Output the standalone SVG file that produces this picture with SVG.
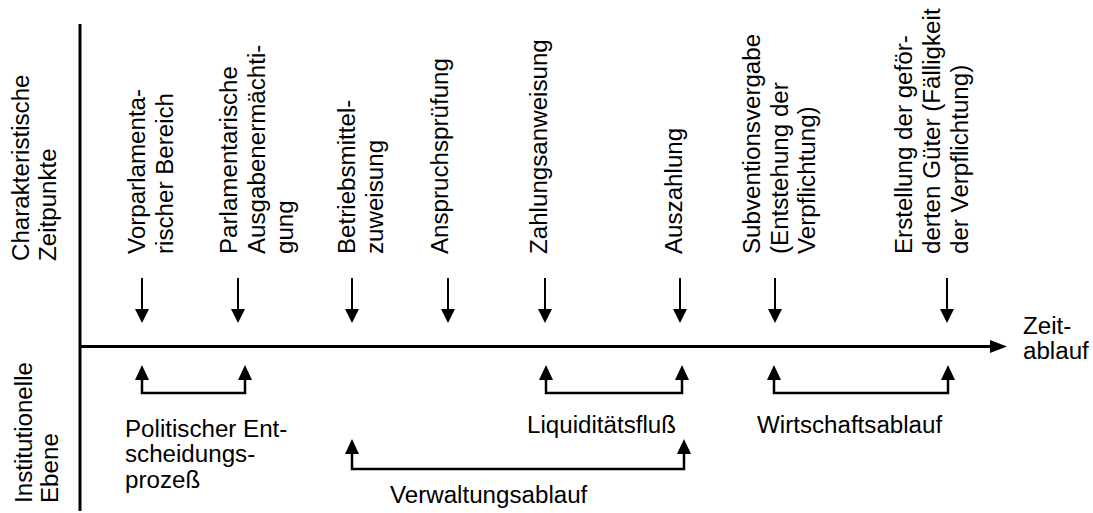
<svg xmlns="http://www.w3.org/2000/svg" width="1093" height="513" viewBox="0 0 1093 513">
<style>
text{font-family:"Liberation Sans",Arial,sans-serif;font-size:23px;fill:#000}
.ax{stroke:#000;stroke-width:3;fill:none}
.sh{stroke:#000;stroke-width:2;fill:none}
.br{stroke:#000;stroke-width:2.5;fill:none}
.hd{fill:#000;stroke:none}
</style>
<defs>
<path id="dn" d="M-7,0 L7,0 L0,14 Z"/>
<path id="up" d="M-7,0 L7,0 L0,-15 Z"/>
</defs>
<g id="axes">
<line class="ax" x1="80" y1="24" x2="80" y2="511"/>
<line class="ax" x1="80" y1="346.5" x2="992" y2="346.5"/>
<path class="hd" d="M990,340 L1007,346.5 L990,353 Z"/>
</g>
<g id="axis-labels">
<g transform="translate(29,261) rotate(-90) scale(1.05,1)"><text x="0" y="0">Charakteristische</text></g>
<g transform="translate(56,261) rotate(-90) scale(1.05,1)"><text x="0" y="0">Zeitpunkte</text></g>
<g transform="translate(32,503) rotate(-90) scale(1.05,1)"><text x="0" y="0">Institutionelle</text></g>
<g transform="translate(58,503) rotate(-90) scale(1.05,1)"><text x="0" y="0">Ebene</text></g>
<g transform="translate(1023,334) scale(1.05,1)"><text x="0" y="0">Zeit-</text></g>
<g transform="translate(1023,359) scale(1.05,1)"><text x="0" y="0">ablauf</text></g>
</g>
<g id="p1">
<g transform="translate(145,254) rotate(-90) scale(1.05,1)"><text x="0" y="0">Vorparlamenta-</text></g>
<g transform="translate(173,254) rotate(-90) scale(1.05,1)"><text x="0" y="0">rischer Bereich</text></g>
</g>
<g id="p2">
<g transform="translate(237,254) rotate(-90) scale(1.05,1)"><text x="0" y="0">Parlamentarische</text></g>
<g transform="translate(265,254) rotate(-90) scale(1.05,1)"><text x="0" y="0">Ausgabenermächti-</text></g>
<g transform="translate(293,254) rotate(-90) scale(1.05,1)"><text x="0" y="0">gung</text></g>
</g>
<g id="p3">
<g transform="translate(355,254) rotate(-90) scale(1.05,1)"><text x="0" y="0">Betriebsmittel-</text></g>
<g transform="translate(383,254) rotate(-90) scale(1.05,1)"><text x="0" y="0">zuweisung</text></g>
</g>
<g id="p4">
<g transform="translate(448,254) rotate(-90) scale(1.05,1)"><text x="0" y="0">Anspruchsprüfung</text></g>
</g>
<g id="p5">
<g transform="translate(547,254) rotate(-90) scale(1.05,1)"><text x="0" y="0">Zahlungsanweisung</text></g>
</g>
<g id="p6">
<g transform="translate(682,254) rotate(-90) scale(1.05,1)"><text x="0" y="0">Auszahlung</text></g>
</g>
<g id="p7">
<g transform="translate(760,254) rotate(-90) scale(1.05,1)"><text x="0" y="0">Subventionsvergabe</text></g>
<g transform="translate(788,254) rotate(-90) scale(1.05,1)"><text x="0" y="0">(Entstehung der</text></g>
<g transform="translate(815,254) rotate(-90) scale(1.05,1)"><text x="0" y="0">Verpflichtung)</text></g>
</g>
<g id="p8">
<g transform="translate(912,254) rotate(-90) scale(1.05,1)"><text x="0" y="0">Erstellung der geför-</text></g>
<g transform="translate(940,254) rotate(-90) scale(1.05,1)"><text x="0" y="0">derten Güter (Fälligkeit</text></g>
<g transform="translate(968,254) rotate(-90) scale(1.05,1)"><text x="0" y="0">der Verpflichtung)</text></g>
</g>
<g id="connectors">
<g id="down-arrows">
<line class="sh" x1="142" y1="278" x2="142" y2="310"/><use href="#dn" class="hd" x="142" y="309"/>
<line class="sh" x1="238" y1="278" x2="238" y2="310"/><use href="#dn" class="hd" x="238" y="309"/>
<line class="sh" x1="352" y1="278" x2="352" y2="310"/><use href="#dn" class="hd" x="352" y="309"/>
<line class="sh" x1="448" y1="278" x2="448" y2="310"/><use href="#dn" class="hd" x="448" y="309"/>
<line class="sh" x1="545" y1="278" x2="545" y2="310"/><use href="#dn" class="hd" x="545" y="309"/>
<line class="sh" x1="680" y1="278" x2="680" y2="310"/><use href="#dn" class="hd" x="680" y="309"/>
<line class="sh" x1="775" y1="278" x2="775" y2="310"/><use href="#dn" class="hd" x="775" y="309"/>
<line class="sh" x1="947" y1="278" x2="947" y2="310"/><use href="#dn" class="hd" x="947" y="309"/>
</g>
<g id="bracket-politik">
<path class="br" d="M142,378 L142,393 L245,393 L245,378"/>
<use href="#up" class="hd" x="142" y="380"/><use href="#up" class="hd" x="245" y="380"/>
</g>
<g id="bracket-liquiditaet">
<path class="br" d="M546,378 L546,393 L682,393 L682,378"/>
<use href="#up" class="hd" x="546" y="380"/><use href="#up" class="hd" x="682" y="380"/>
</g>
<g id="bracket-wirtschaft">
<path class="br" d="M774,378 L774,393 L948,393 L948,378"/>
<use href="#up" class="hd" x="774" y="380"/><use href="#up" class="hd" x="948" y="380"/>
</g>
<g id="bracket-verwaltung">
<path class="br" d="M352,452 L352,469 L684,469 L684,452"/>
<use href="#up" class="hd" x="352" y="454"/><use href="#up" class="hd" x="684" y="454"/>
</g>
</g>
<g id="process-labels">
<g transform="translate(125,437) scale(1.05,1)"><text x="0" y="0">Politischer Ent-</text></g>
<g transform="translate(125,462) scale(1.05,1)"><text x="0" y="0">scheidungs-</text></g>
<g transform="translate(125,488) scale(1.05,1)"><text x="0" y="0">prozeß</text></g>
<g transform="translate(527,433) scale(1.05,1)"><text x="0" y="0">Liquiditätsfluß</text></g>
<g transform="translate(757,433) scale(1.05,1)"><text x="0" y="0">Wirtschaftsablauf</text></g>
<g transform="translate(390,503) scale(1.05,1)"><text x="0" y="0">Verwaltungsablauf</text></g>
</g>
</svg>
